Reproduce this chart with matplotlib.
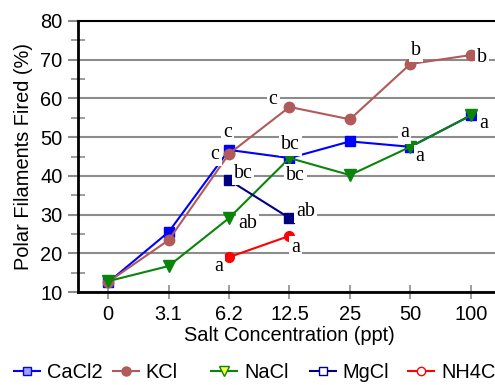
import numpy as np
import matplotlib.pyplot as plt
from matplotlib.lines import Line2D
from matplotlib.ticker import MultipleLocator

plt.rcParams.update({'font.family': ['Liberation Sans', 'DejaVu Sans'], 'font.size': 14.4})

conc = ['0', '3.1', '6.2', '12.5', '25', '50', '100']
cacl2 = [12.5, 25.5, 46.7, 44.6, 48.9, 47.5, 55.6]
kcl = [12.6, 23.4, 45.7, 57.8, 54.6, 68.9, 71.2]
nacl = [12.8, 16.7, 29.1, 44.6, 40.2, 47.5, 55.6]
mgcl_x = [2, 3]
mgcl = [38.9, 29.1]
nh4cl_x = [2, 3]
nh4cl = [19.0, 24.5]

# letter groups: (x index, y, text)
letters = [
    (1.97, 51.1, 'c'), (1.77, 45.4, 'c'), (2.23, 40.7, 'bc'), (2.31, 27.8, 'ab'),
    (1.82, 16.7, 'a'), (2.73, 59.6, 'c'), (3.02, 48.0, 'bc'), (3.10, 40.2, 'bc'),
    (3.26, 30.7, 'ab'), (3.10, 21.6, 'a'), (5.09, 72.5, 'b'), (4.90, 51.1, 'a'),
    (5.16, 45.0, 'a'), (6.19, 70.5, 'b'), (6.21, 53.6, 'a'),
]

blue = '#0000ff'
brown = '#b05a5a'
green = '#0a840a'
navy = '#000080'
red = '#ff0000'
grey = '#8c8c8c'

fig = plt.figure(figsize=(4.95, 3.85), dpi=100)
ax = fig.add_axes([78 / 495, 1 - 292 / 385, 423 / 495, 271 / 385])

x = np.arange(len(conc))
ax.plot(x, cacl2, color=blue, lw=1.5, marker='s', ms=7, zorder=3)
ax.plot(x, kcl, color=brown, lw=1.5, marker='o', ms=7.5, zorder=3)
ax.plot(x, nacl, color=green, lw=1.5, marker='v', ms=8, zorder=3)
ax.plot(mgcl_x, mgcl, color=navy, lw=1.5, marker='s', ms=7, zorder=3)
ax.plot(nh4cl_x, nh4cl, color=red, lw=1.5, marker='o', ms=7, zorder=3)

for lx, ly, t in letters:
    ax.text(lx, ly, t, family='Liberation Serif', fontsize=14.4, ha='center', va='center',
            zorder=4, bbox=dict(fc='white', ec='none', pad=1.5))

ax.set_xlim(-0.5, 6.5)
ax.set_ylim(10, 80)
ax.set_xticks(x)
ax.set_xticklabels(conc)
ax.yaxis.set_major_locator(MultipleLocator(10))
ax.yaxis.set_minor_locator(MultipleLocator(5))
ax.grid(axis='y', color=grey, lw=1.5, zorder=1)
ax.set_axisbelow(True)
ax.tick_params(axis='y', which='major', length=7, width=1.5, color=grey, pad=4)
ax.tick_params(axis='y', which='minor', length=10, width=1.2, color=grey, direction='inout')
ax.tick_params(axis='x', length=10, width=1.2, color=grey, direction='inout', pad=4)
ax.spines['right'].set_visible(False)
ax.spines['left'].set_linewidth(2)
ax.spines['bottom'].set_linewidth(2)
ax.spines['top'].set_linewidth(1.5)

ax.set_xlabel('Salt Concentration (ppt)', labelpad=2)
ax.set_ylabel('Polar Filaments Fired (%)', labelpad=5)

handles = [
    Line2D([], [], color=blue, lw=1.5, marker='s', ms=6, mfc='#a0a0ff', mec=blue),
    Line2D([], [], color=brown, lw=1.5, marker='o', ms=6.5, mfc=brown, mec=brown),
    Line2D([], [], color=green, lw=1.5, marker='v', ms=6.5, mfc='#ffff40', mec=green),
    Line2D([], [], color=navy, lw=1.5, marker='s', ms=6, mfc='white', mec=navy),
    Line2D([], [], color=red, lw=1.5, marker='o', ms=6, mfc='white', mec=red),
]
names = ['CaCl2', 'KCl', 'NaCl', 'MgCl', 'NH4Cl']
# fixed-width legend columns, like the original
for i, (h, n) in enumerate(zip(handles, names)):
    leg = fig.legend([h], [n], loc='center left',
                     bbox_to_anchor=((14 + 98.5 * i) / 495, 1 - 372 / 385),
                     frameon=False, handlelength=1.3, handletextpad=0.35,
                     borderaxespad=0, borderpad=0)

fig.savefig('out.png', dpi=100)
